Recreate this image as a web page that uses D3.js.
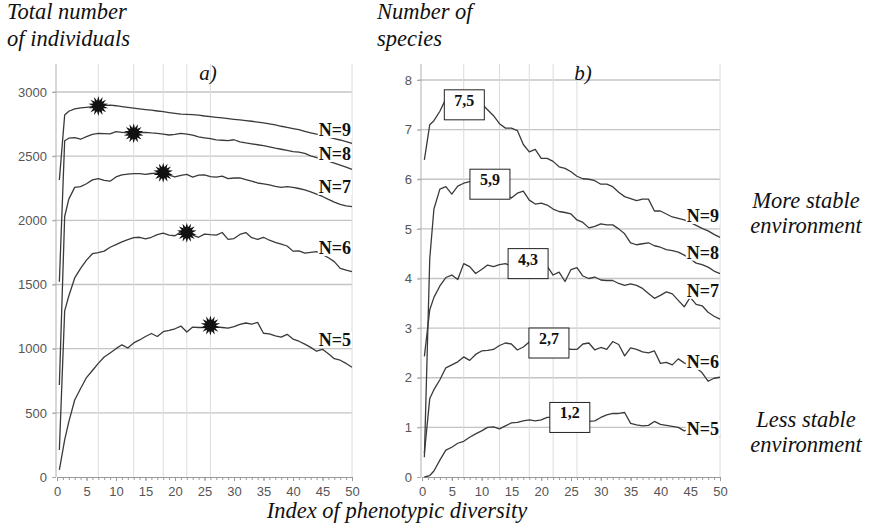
<!DOCTYPE html>
<html>
<head>
<meta charset="utf-8">
<script src="https://cdn.jsdelivr.net/npm/d3@7/dist/d3.min.js"></script>
<style>
  body { margin: 0; background: #fff; }
  .tick text { font-family: 'Liberation Sans', Arial, sans-serif; font-size: 13px; fill: #555; }
  .serif { font-family: 'Liberation Serif', 'Times New Roman', serif; }
</style>
</head>
<body>
<div class="chart"></div>
<script>
// index of phenotypic diversity (x) shared by every curve
const diversity = [0.4, 1.3, 2, 3, 4, 5, 6, 7, 8, 9, 10, 11, 12, 13, 14, 15, 16, 17, 18, 19, 20,
  21, 22, 23, 24, 25, 26, 27, 28, 29, 30, 31, 32, 33, 34, 35, 36, 37, 38, 39, 40,
  41, 42, 43, 44, 45, 46, 47, 48, 49, 50];

const seriesNames = ['N=9', 'N=8', 'N=7', 'N=6', 'N=5'];

// a) total number of individuals
const indN9 = [2314, 2820, 2850, 2868, 2876, 2881, 2886, 2892, 2896, 2898, 2893, 2886, 2880, 2874, 2868, 2863, 2858, 2852, 2847, 2840, 2834,
  2828, 2825, 2823, 2820, 2813, 2808, 2803, 2798, 2792, 2787, 2782, 2777, 2772, 2765, 2759, 2752, 2743, 2733, 2725, 2715,
  2706, 2694, 2682, 2671, 2660, 2648, 2637, 2626, 2613, 2600];
const indN8 = [1522, 2620, 2640, 2645, 2632, 2652, 2670, 2677, 2676, 2673, 2691, 2686, 2682, 2678, 2684, 2686, 2681, 2678, 2672, 2665, 2670,
  2678, 2672, 2664, 2650, 2643, 2636, 2627, 2624, 2621, 2628, 2612, 2603, 2596, 2589, 2582, 2572, 2562, 2554, 2545, 2535,
  2531, 2522, 2503, 2489, 2475, 2461, 2446, 2431, 2414, 2397];
const indN7 = [717, 2030, 2165, 2257, 2263, 2285, 2315, 2325, 2312, 2305, 2338, 2355, 2360, 2364, 2364, 2358, 2365, 2368, 2371, 2352, 2338,
  2350, 2358, 2337, 2352, 2355, 2340, 2336, 2344, 2325, 2330, 2330, 2318, 2305, 2291, 2284, 2276, 2265, 2257, 2262, 2257,
  2248, 2237, 2221, 2205, 2186, 2163, 2142, 2124, 2113, 2106];
const indN6 = [210, 1295, 1410, 1551, 1625, 1690, 1740, 1748, 1760, 1790, 1811, 1832, 1850, 1866, 1868, 1855, 1868, 1888, 1900, 1885, 1880,
  1910, 1904, 1885, 1868, 1893, 1888, 1885, 1905, 1852, 1858, 1890, 1905, 1865, 1852, 1868, 1845, 1828, 1814, 1800, 1760,
  1762, 1745, 1750, 1756, 1735, 1708, 1678, 1626, 1612, 1600];
const indN5 = [55, 290, 430, 600, 690, 775, 830, 885, 935, 966, 1000, 1030, 1005, 1045, 1068, 1095, 1118, 1095, 1132, 1142, 1155,
  1176, 1130, 1168, 1165, 1165, 1172, 1170, 1165, 1160, 1172, 1190, 1200, 1192, 1205, 1120, 1115, 1100, 1090, 1112, 1075,
  1058, 1035, 1010, 980, 995, 960, 922, 910, 885, 855];

// b) number of species
const spN9 = [6.39, 7.1, 7.18, 7.37, 7.62, 7.7, 7.72, 7.7, 7.66, 7.6, 7.52, 7.4, 7.28, 7.12, 7.03, 7.03, 6.98, 6.7, 6.55, 6.6, 6.42,
  6.42, 6.36, 6.25, 6.22, 6.15, 6.06, 6.01, 6.0, 5.97, 5.9, 5.9, 5.85, 5.74, 5.65, 5.61, 5.57, 5.6, 5.6, 5.36, 5.36,
  5.3, 5.24, 5.21, 5.18, 5.13, 5.07, 5.01, 4.96, 4.89, 4.83];
const spN8 = [0.4, 4.4, 5.4, 5.8, 5.85, 5.7, 5.86, 5.92, 5.95, 5.97, 5.98, 5.98, 5.95, 5.85, 5.72, 5.62, 5.72, 5.76, 5.58, 5.5, 5.52,
  5.48, 5.4, 5.35, 5.33, 5.3, 5.18, 5.13, 5.02, 5.05, 5.1, 5.08, 5.08, 5.0, 4.9, 4.72, 4.68, 4.7, 4.72, 4.66, 4.63,
  4.58, 4.56, 4.53, 4.47, 4.4, 4.31, 4.28, 4.23, 4.15, 4.1];
const spN7 = [2.43, 3.37, 3.62, 3.85, 4.02, 4.07, 3.98, 4.3, 4.24, 4.1, 4.18, 4.27, 4.24, 4.28, 4.3, 4.25, 4.3, 4.28, 4.32, 4.25, 4.3,
  4.25, 4.07, 4.13, 3.94, 4.18, 4.22, 4.05, 4.0, 4.03, 3.97, 3.96, 3.96, 3.9, 3.86, 3.89, 3.86, 3.8, 3.7, 3.6, 3.66,
  3.73, 3.69, 3.56, 3.43, 3.62, 3.48, 3.45, 3.32, 3.24, 3.18];
const spN6 = [0.48, 1.58, 1.76, 1.96, 2.2, 2.26, 2.32, 2.42, 2.35, 2.47, 2.54, 2.55, 2.57, 2.65, 2.7, 2.68, 2.56, 2.62, 2.72, 2.7, 2.72,
  2.68, 2.7, 2.66, 2.6, 2.57, 2.57, 2.68, 2.7, 2.56, 2.61, 2.57, 2.73, 2.67, 2.44, 2.6, 2.57, 2.52, 2.5, 2.54, 2.29,
  2.31, 2.26, 2.38, 2.3, 2.24, 2.2, 2.1, 1.93, 1.99, 2.01];
const spN5 = [0.0, 0.03, 0.12, 0.34, 0.54, 0.6, 0.68, 0.72, 0.8, 0.87, 0.93, 1.0, 1.01, 0.97, 1.03, 1.09, 1.1, 1.13, 1.15, 1.13, 1.15,
  1.2, 1.2, 1.18, 1.18, 1.18, 1.16, 1.13, 1.12, 1.13, 1.2, 1.25, 1.28, 1.28, 1.3, 1.08, 1.05, 1.03, 1.04, 1.12, 1.06,
  1.04, 1.02, 1.0, 0.93, 0.97, 0.88, 0.84, 0.91, 0.9, 0.81];

// maxima: stars in a), boxed values in b)
const peakIndex = [7, 13, 18, 22, 26];
const starValues = [2891, 2678, 2371, 1904, 1180];
const boxIndex = [7.1, 11.4, 17.8, 21.3, 24.8];
const boxValues = [7.5, 5.9, 4.3, 2.7, 1.2];
const boxLabels = ['7,5', '5,9', '4,3', '2,7', '1,2'];

// where the N= labels sit (y value of their baseline)
const indLabelY = [2657, 2470, 2213, 1738, 1021];
const spLabelY = [5.14, 4.4, 3.63, 2.2, 0.85];

const xTicks = [0, 5, 10, 15, 20, 25, 30, 35, 40, 45, 50];
const xMinor = [0, 1, 2, 3, 4, 5, 6, 7, 8, 9, 10, 11, 12, 13, 14, 15, 16, 17, 18, 19, 20, 21, 22, 23, 24, 25,
  26, 27, 28, 29, 30, 31, 32, 33, 34, 35, 36, 37, 38, 39, 40, 41, 42, 43, 44, 45, 46, 47, 48, 49, 50];
const indTicks = [0, 500, 1000, 1500, 2000, 2500, 3000];
const spTicks = [0, 1, 2, 3, 4, 5, 6, 7, 8];

const width = 874;
const height = 528;
const plot_top = 64;
const plot_bottom = 477;

const svg = d3
  .select('.chart')
  .append('svg')
  .attr('width', width)
  .attr('height', height);

function starPath(r1, r2, n) {
  const pts = [];
  for (let i = 0; i < n * 2; i++) {
    const a = (i * Math.PI) / n;
    const r = i % 2 === 0 ? r1 : r2;
    pts.push([r * Math.sin(a), -r * Math.cos(a)]);
  }
  return d3.line().curve(d3.curveLinearClosed)(pts);
}

function drawPanel(p) {
  const x = d3.scaleLinear().domain([0, 50]).range([p.left, p.right]);
  const y = d3.scaleLinear().domain([0, p.yMax]).range([plot_bottom, p.yTopPx]);
  const g = svg.append('g');

  // horizontal grid
  g.selectAll('.hgrid')
    .data(p.yTicks.slice(1))
    .enter()
    .append('line')
    .attr('x1', p.left - 4)
    .attr('x2', p.right)
    .attr('y1', d => y(d))
    .attr('y2', d => y(d))
    .style('stroke', '#c4c4c4')
    .style('stroke-width', 1.3);

  // vertical guides at the maxima + right edge
  g.selectAll('.vgrid')
    .data(peakIndex.concat([50]))
    .enter()
    .append('line')
    .attr('x1', d => x(d))
    .attr('x2', d => x(d))
    .attr('y1', plot_top)
    .attr('y2', plot_bottom)
    .style('stroke', '#dcdcdc')
    .style('stroke-width', 1);

  // y axis
  const yAxis = d3
    .axisLeft(y)
    .tickValues(p.yTicks)
    .tickFormat(d3.format('d'))
    .tickSize(4)
    .tickPadding(5);
  const ya = g
    .append('g')
    .attr('transform', 'translate(' + (p.left - 1) + ',0)')
    .call(yAxis);
  ya.select('.domain').remove();
  ya.selectAll('line').style('stroke', '#aaa');
  g.append('line')
    .attr('x1', p.left - 1)
    .attr('x2', p.left - 1)
    .attr('y1', plot_top)
    .attr('y2', plot_bottom)
    .style('stroke', '#b0b0b0');

  // x axis with minor ticks
  const xm = g
    .append('g')
    .attr('transform', 'translate(0,' + plot_bottom + ')')
    .call(d3.axisBottom(x).tickValues(xMinor).tickSize(3).tickFormat(''));
  xm.select('.domain').remove();
  xm.selectAll('line').style('stroke', '#999');

  const xa = g
    .append('g')
    .attr('transform', 'translate(0,' + plot_bottom + ')')
    .call(d3.axisBottom(x).tickValues(xTicks).tickSize(4).tickPadding(6));
  xa.select('.domain').style('stroke', '#999');
  xa.selectAll('line').style('stroke', '#999');

  // curves
  const line = d3
    .line()
    .x(function(d, i) {
      return x(diversity[i]);
    })
    .y(function(d) {
      return y(d);
    });

  g.selectAll('.curve')
    .data(p.series)
    .enter()
    .append('path')
    .attr('d', line)
    .style('fill', 'none')
    .style('stroke', '#3a3a3a')
    .style('stroke-width', 1.3)
    .style('stroke-linejoin', 'round');

  // N= labels with white backing
  const labels = g
    .selectAll('.nlabel')
    .data(seriesNames)
    .enter()
    .append('g');

  labels
    .append('text')
    .attr('class', 'serif')
    .attr('x', p.right - 1)
    .attr('y', (d, i) => y(p.labelY[i]))
    .attr('text-anchor', 'end')
    .style('font-size', '18px')
    .style('font-weight', 'bold')
    .style('fill', '#111')
    .text(d => d);

  labels.each(function() {
    const t = d3.select(this).select('text');
    const b = t.node().getBBox();
    d3.select(this)
      .insert('rect', 'text')
      .attr('x', b.x - 1)
      .attr('y', b.y + 2)
      .attr('width', b.width + 2)
      .attr('height', b.height - 4)
      .style('fill', '#fff');
  });

  // panel letter
  g.append('text')
    .attr('class', 'serif')
    .attr('x', p.letterX)
    .attr('y', 80)
    .attr('text-anchor', 'middle')
    .style('font-size', '21px')
    .style('font-style', 'italic')
    .style('fill', '#111')
    .text(p.letter);

  return { g: g, x: x, y: y };
}

const a = drawPanel({
  left: 57,
  right: 352,
  yMax: 3000,
  yTopPx: 92,
  yTicks: indTicks,
  series: [indN9, indN8, indN7, indN6, indN5],
  labelY: indLabelY,
  letter: 'a)',
  letterX: 208,
});

const b = drawPanel({
  left: 422,
  right: 720,
  yMax: 8,
  yTopPx: 80,
  yTicks: spTicks,
  series: [spN9, spN8, spN7, spN6, spN5],
  labelY: spLabelY,
  letter: 'b)',
  letterX: 583,
});

// stars on panel a
a.g
  .selectAll('.star')
  .data(starValues)
  .enter()
  .append('path')
  .attr('d', starPath(10, 5.5, 14))
  .attr('transform', (d, i) => 'translate(' + a.x(peakIndex[i]) + ',' + a.y(d) + ')')
  .style('fill', '#111');

// boxed maxima on panel b
const boxes = b.g
  .selectAll('.box')
  .data(boxValues)
  .enter()
  .append('g')
  .attr('transform', (d, i) => 'translate(' + b.x(boxIndex[i]) + ',' + b.y(d) + ')');

boxes
  .append('rect')
  .attr('x', -20)
  .attr('y', -15)
  .attr('width', 40)
  .attr('height', 30)
  .style('fill', '#fff')
  .style('stroke', '#222')
  .style('stroke-width', 1);

boxes
  .append('text')
  .attr('class', 'serif')
  .attr('y', 1)
  .attr('text-anchor', 'middle')
  .style('font-size', '16px')
  .style('font-weight', 'bold')
  .style('fill', '#111')
  .text((d, i) => boxLabels[i]);

// titles
function italic(txt, x, y, anchor) {
  svg
    .append('text')
    .attr('class', 'serif')
    .attr('x', x)
    .attr('y', y)
    .attr('text-anchor', anchor || 'start')
    .style('font-size', '22.5px')
    .style('font-style', 'italic')
    .style('fill', '#111')
    .text(txt);
}

italic('Total number', 7, 19);
italic('of individuals', 7, 46);
italic('Number of', 377, 19);
italic('species', 377, 46);
italic('More stable', 806, 208, 'middle');
italic('environment', 806, 233, 'middle');
italic('Less stable', 806, 427, 'middle');
italic('environment', 806, 452, 'middle');
italic('Index of phenotypic diversity', 397, 518, 'middle');
</script>
</body>
</html>
